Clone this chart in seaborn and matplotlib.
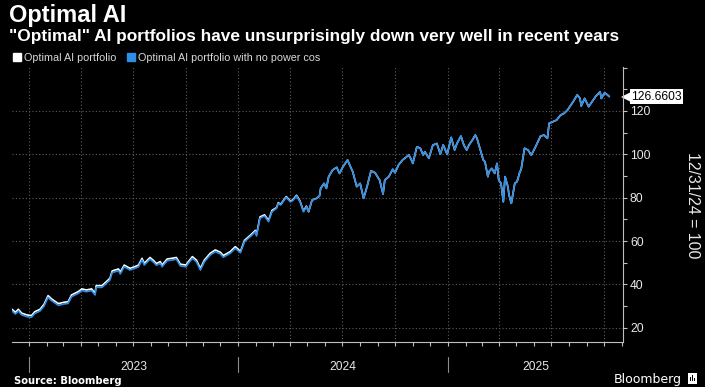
"""Optimal AI portfolio index chart (Bloomberg style)."""

import matplotlib

matplotlib.use("Agg")

import matplotlib.dates as mdates
import matplotlib.pyplot as plt
import matplotlib.transforms as mtransforms
import pandas as pd
import seaborn as sns
from matplotlib import font_manager
from matplotlib.lines import Line2D
from matplotlib.patches import Rectangle
from matplotlib.ticker import FixedLocator, MultipleLocator

TITLE = "Optimal AI"
SUBTITLE = '"Optimal" AI portfolios have unsurprisingly down very well in recent years'
SERIES = ["Optimal AI portfolio", "Optimal AI portfolio with no power cos"]
COLORS = ["#ffffff", "#2f8de4"]
Y_LABEL = "12/31/24 = 100"
SOURCE = "Source: Bloomberg"

dates = [
    "2022-12-02", "2022-12-08", "2022-12-13", "2022-12-19", "2022-12-28",
    "2023-01-05", "2023-01-11", "2023-01-20", "2023-01-27", "2023-02-03",
    "2023-02-09", "2023-02-21", "2023-03-02", "2023-03-10", "2023-03-16",
    "2023-03-28", "2023-04-03", "2023-04-11", "2023-04-20", "2023-04-26",
    "2023-04-28", "2023-05-08", "2023-05-16", "2023-05-22", "2023-05-26",
    "2023-06-06", "2023-06-09", "2023-06-16", "2023-06-26", "2023-07-05",
    "2023-07-11", "2023-07-17", "2023-07-21", "2023-07-31", "2023-08-07",
    "2023-08-11", "2023-08-18", "2023-08-21", "2023-08-30", "2023-09-07",
    "2023-09-15", "2023-09-22", "2023-10-02", "2023-10-06", "2023-10-13",
    "2023-10-20", "2023-10-27", "2023-11-03", "2023-11-13", "2023-11-22",
    "2023-12-01", "2023-12-06", "2023-12-18", "2023-12-27",
    "2024-01-05", "2024-01-12", "2024-01-22", "2024-01-31", "2024-02-02",
    "2024-02-08", "2024-02-16", "2024-02-23", "2024-02-29", "2024-03-08",
    "2024-03-11", "2024-03-15", "2024-03-25", "2024-04-01", "2024-04-05",
    "2024-04-12", "2024-04-18", "2024-04-24", "2024-04-29", "2024-05-03",
    "2024-05-09", "2024-05-17", "2024-05-22", "2024-05-24", "2024-05-30",
    "2024-06-03", "2024-06-07", "2024-06-14", "2024-06-21", "2024-06-26",
    "2024-07-02", "2024-07-10", "2024-07-15", "2024-07-19", "2024-07-26",
    "2024-08-01", "2024-08-07", "2024-08-13", "2024-08-20", "2024-08-27",
    "2024-09-04", "2024-09-10", "2024-09-13", "2024-09-20", "2024-09-27",
    "2024-10-01", "2024-10-07", "2024-10-14", "2024-10-18", "2024-10-25",
    "2024-10-29", "2024-11-01", "2024-11-08", "2024-11-14", "2024-11-19",
    "2024-11-22", "2024-11-29", "2024-12-06", "2024-12-13", "2024-12-19",
    "2024-12-24", "2024-12-31",
    "2025-01-07", "2025-01-13", "2025-01-17", "2025-01-24", "2025-01-29",
    "2025-02-03", "2025-02-07", "2025-02-13", "2025-02-18", "2025-02-21",
    "2025-02-27", "2025-03-04", "2025-03-07", "2025-03-12", "2025-03-14",
    "2025-03-19", "2025-03-24", "2025-03-28", "2025-03-31", "2025-04-04",
    "2025-04-08", "2025-04-11", "2025-04-16", "2025-04-18", "2025-04-22",
    "2025-04-28", "2025-05-02", "2025-05-07", "2025-05-09", "2025-05-15",
    "2025-05-21", "2025-05-27", "2025-06-02", "2025-06-06", "2025-06-12",
    "2025-06-18", "2025-06-24", "2025-06-27", "2025-07-03", "2025-07-10",
    "2025-07-17", "2025-07-23", "2025-07-29", "2025-08-04", "2025-08-08",
    "2025-08-15", "2025-08-20", "2025-08-22", "2025-08-28", "2025-09-04",
    "2025-09-10", "2025-09-16", "2025-09-24", "2025-09-26", "2025-10-02",
    "2025-10-07", "2025-10-10",
]

# Optimal AI portfolio with no power cos
no_power = [
    27.7, 26.3, 27.7, 25.9, 25.1, 24.8, 26.6, 27.7, 30.0, 34.0,
    32.5, 30.3, 30.9, 31.2, 34.3, 35.9, 37.1, 36.6, 37.1, 35.1,
    38.6, 38.6, 40.5, 42.0, 45.4, 46.3, 44.8, 48.1, 46.6, 47.4,
    48.1, 51.2, 48.9, 51.6, 50.0, 48.8, 49.7, 48.1, 50.9, 51.2,
    51.6, 48.5, 48.1, 49.7, 52.0, 50.4, 46.6, 50.4, 53.5, 55.1,
    54.0, 52.5, 54.3, 56.6,
    54.6, 59.7, 62.0, 64.3, 62.3, 70.5, 71.5, 68.9, 73.5, 75.1,
    77.4, 76.6, 80.2, 78.1, 78.6, 80.8, 78.1, 73.5, 75.8, 73.5,
    78.9, 79.7, 80.8, 84.3, 86.6, 84.3, 89.7, 92.8, 94.0, 91.2,
    94.3, 97.4, 94.3, 92.0, 85.1, 86.6, 79.7, 85.1, 92.4, 91.5,
    88.1, 81.7, 88.1, 89.7, 93.1, 91.5, 95.1, 97.4, 98.2, 99.7,
    97.7, 95.8, 103.5, 102.8, 99.7, 101.2, 98.2, 104.3, 105.0, 100.1,
    104.3, 100.0,
    107.8, 102.0, 105.0, 108.4, 104.3, 102.0, 104.3, 106.6, 108.9, 107.4,
    102.0, 97.4, 96.6, 89.7, 92.0, 93.5, 91.2, 95.8, 88.1, 86.6,
    78.1, 89.7, 85.1, 81.2, 77.4, 86.6, 87.4, 92.0, 92.8, 102.8,
    102.0, 99.7, 102.8, 105.0, 108.4, 108.9, 107.4, 114.3, 115.0, 115.8,
    118.1, 118.9, 120.4, 122.7, 124.3, 127.4, 125.8, 122.3, 125.8, 122.0,
    124.3, 126.6, 128.9, 125.8, 128.4, 127.4, 126.6603,
]

# Optimal AI portfolio: sits just above the no-power line until spring 2024,
# after which the two lines are indistinguishable on the chart
with_power_early = [
    28.5, 27.1, 28.5, 26.7, 25.9, 25.6, 27.4, 28.5, 30.8, 34.8,
    33.3, 31.1, 31.7, 32.0, 35.1, 36.7, 37.9, 37.4, 37.9, 35.9,
    39.4, 39.4, 41.3, 42.8, 46.2, 47.1, 45.6, 48.9, 47.4, 48.2,
    48.9, 52.0, 49.7, 52.4, 50.8, 49.6, 50.5, 48.9, 51.7, 52.0,
    52.4, 49.3, 48.9, 50.5, 52.8, 51.2, 47.4, 51.2, 54.3, 55.9,
    54.8, 53.3, 55.1, 57.4,
    55.2, 60.3, 62.6, 64.9, 62.9, 71.1, 72.1, 69.5, 74.1,
    75.4, 77.7, 76.9, 80.5, 78.4, 78.9, 81.1, 78.4, 73.8, 76.1,
]
with_power = with_power_early + no_power[len(with_power_early):]

y_ticks = [20, 40, 60, 80, 100, 120]
years = ["2023", "2024", "2025"]
x_start, x_end = "2022-12-02", "2025-11-03"


def has_font(name: str) -> bool:
    try:
        font_manager.findfont(
            font_manager.FontProperties(family=name), fallback_to_default=False
        )
        return True
    except ValueError:
        return False


sns.set_theme(
    style="dark",
    rc={
        "figure.facecolor": "black",
        "axes.facecolor": "black",
        "savefig.facecolor": "black",
        "text.color": "white",
    },
)

# Bloomberg's chart font is narrow; scale sizes to whichever family exists
if has_font("Liberation Sans Narrow"):
    FONT, k = "Liberation Sans Narrow", 1.0
elif has_font("Liberation Sans"):
    FONT, k = "Liberation Sans", 0.82
else:
    FONT, k = "DejaVu Sans", 0.74
plt.rcParams["font.family"] = [FONT, "DejaVu Sans"]

W, H = 705, 387
fig = plt.figure(figsize=(W / 100, H / 100), dpi=100)
ax = fig.add_axes([12 / W, 45 / H, 611 / W, 275 / H])

n = len(dates)
frame = pd.DataFrame(
    {
        "date": pd.to_datetime(dates * 2),
        "value": with_power + no_power,
        "series": [SERIES[0]] * n + [SERIES[1]] * n,
    }
)
sns.lineplot(
    data=frame,
    x="date",
    y="value",
    hue="series",
    hue_order=SERIES,
    palette=COLORS,
    linewidth=1.2,
    estimator=None,
    sort=False,
    legend=False,
    ax=ax,
)

ax.set_xlim(pd.Timestamp(x_start), pd.Timestamp(x_end))
ax.set_ylim(13.4, 140.3)
ax.set_xlabel("")
ax.set_ylabel("")

# y axis on the right
ax.yaxis.tick_right()
ax.yaxis.set_major_locator(FixedLocator(y_ticks))
ax.yaxis.set_minor_locator(MultipleLocator(10))
ax.set_yticklabels([str(t) for t in y_ticks])
ax.tick_params(
    axis="y", which="both", right=True, left=False, length=3, width=0.8,
    color="#bfbfbf", labelcolor="#e8e8e8", labelsize=10.7 * k, pad=2,
)

# x axis: quarterly grid, monthly ticks, no tick labels
ax.xaxis.set_major_locator(mdates.MonthLocator(bymonth=[1, 4, 7, 10]))
ax.xaxis.set_minor_locator(mdates.MonthLocator())
ax.tick_params(
    axis="x", which="both", bottom=True, length=3, width=0.8,
    color="#bfbfbf", labelbottom=False,
)

ax.grid(False)
ax.grid(True, which="major", axis="both", color="#5e5e5e",
        linestyle=(0, (1, 2)), linewidth=0.8)

for side in ["left", "top"]:
    ax.spines[side].set_visible(False)
for side in ["right", "bottom"]:
    ax.spines[side].set_visible(True)
    ax.spines[side].set_color("#bfbfbf")
    ax.spines[side].set_linewidth(0.8)

# year labels and separators below the axis
sep_trans = mtransforms.blended_transform_factory(ax.transData, ax.transAxes)
lo, hi = pd.Timestamp(x_start), pd.Timestamp(x_end)
for year in years:
    start = pd.Timestamp(f"{year}-01-01")
    end = pd.Timestamp(f"{int(year) + 1}-01-01")
    left, right = max(start, lo), min(end, hi)
    mid = left + (right - left) / 2
    ax.text(mdates.date2num(mid), -0.09, year, transform=sep_trans,
            ha="center", va="center", fontsize=10.5 * k, color="#e8e8e8")
    x = mdates.date2num(start)
    ax.plot([x, x], [-0.055, -0.11], transform=sep_trans, color="#8c8c8c",
            linewidth=0.8, clip_on=False)

# last value tag
tag_trans = mtransforms.blended_transform_factory(ax.transAxes, ax.transData)
last = no_power[-1]
ax.plot([1.0 + 3 / 611], [last], marker="<", markersize=7, color="white",
        markeredgewidth=0, transform=tag_trans, clip_on=False)
ax.text(1.0 + 8 / 611, last, f"{last:.4f}", transform=tag_trans,
        ha="left", va="center", fontsize=10.5 * k, color="black",
        bbox=dict(boxstyle="square,pad=0.12", facecolor="white", edgecolor="none"))

# right axis title
fig.text(692 / W, 1 - 205 / H, Y_LABEL, rotation=270, ha="center", va="center",
         fontsize=14 * k, color="#e8e8e8")

# titles
fig.text(9 / W, 1 - 22 / H, TITLE, ha="left", va="baseline",
         fontsize=17 if FONT.startswith("Liberation") else 14.5,
         fontweight="bold", family=["Liberation Sans", "DejaVu Sans"],
         color="white")
fig.text(9 / W, 1 - 41 / H, SUBTITLE, ha="left", va="baseline",
         fontsize=15.2 * k, fontweight="bold", color="white")

# legend
handles = [
    Line2D([], [], marker="s", linestyle="", color=c, markersize=6)
    for c in COLORS
]
fig.legend(
    handles, SERIES, loc="center left", bbox_to_anchor=(13 / W, 1 - 58 / H),
    ncol=2, frameon=False, fontsize=9.5 * k, labelcolor="#d9d9d9",
    handlelength=0.7, handletextpad=0.3, columnspacing=1.0,
    borderpad=0, borderaxespad=0,
)

# footer
fig.text(14 / W, 1 - 384 / H, SOURCE, ha="left", va="baseline",
         fontsize=7.2, fontweight="bold", family="DejaVu Sans", color="white")
fig.text(614 / W, 1 - 383 / H, "Bloomberg", ha="left", va="baseline",
         fontsize=9, family="DejaVu Sans", color="white")
fig.add_artist(Rectangle((688 / W, 1 - 384 / H), 9 / W, 11 / H,
                         transform=fig.transFigure, facecolor="white",
                         edgecolor="none"))
for i, h in enumerate([4, 6, 3]):
    fig.add_artist(Rectangle(((690 + 2 * i) / W, 1 - 381 / H), 1 / W, h / H,
                             transform=fig.transFigure, facecolor="black",
                             edgecolor="none"))

fig.savefig("out.png", dpi=100, facecolor="black")
